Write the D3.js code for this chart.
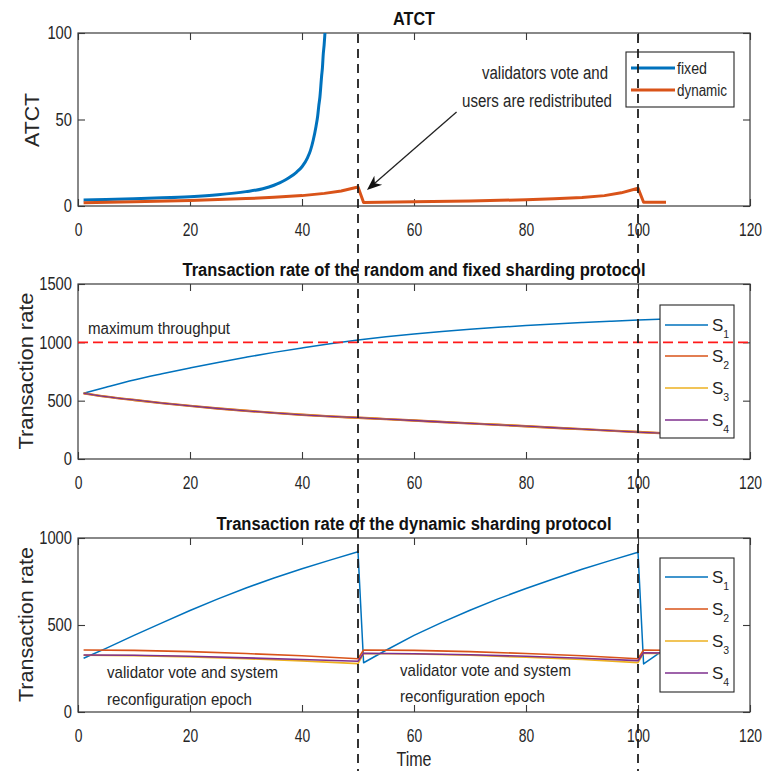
<!DOCTYPE html>
<html>
<head>
<meta charset="utf-8">
<script src="https://cdn.jsdelivr.net/npm/d3@7"></script>
<style>
  body { margin: 0; background: #fff; }
  svg { display: block; }
  text { font-family: "Liberation Sans", Arial, Helvetica, sans-serif; }
</style>
</head>
<body>
<svg id="fig" width="762" height="771"></svg>
<script>
// ---------- tick labels ----------
const timeTicks = [0, 20, 40, 60, 80, 100, 120];
const atctTicks = [0, 50, 100];
const rateTicksFixed = [0, 500, 1000, 1500];
const rateTicksDynamic = [0, 500, 1000];

// ---------- ATCT ----------
const fixedTime = [1, 5, 10, 15, 20, 25, 30, 33, 35, 36, 37, 38, 39, 40, 41, 41.5, 42, 42.5, 42.8, 43, 43.2, 43.5, 43.65, 43.8, 43.95, 44.1];
const fixedATCT = [3.5, 3.8, 4.2, 4.7, 5.4, 6.5, 8.3, 10, 12, 13.4, 15, 17, 19.5, 22.7, 28, 32, 38, 46, 52, 58, 63, 75, 80, 88, 93, 100];
const dynamicTime = [1, 10, 20, 30, 35, 40, 44, 47, 50, 51, 60, 70, 80, 85, 90, 94, 97, 100, 101, 105];
const dynamicATCT = [1.9, 2.4, 3.2, 4.3, 5.0, 6.0, 7.3, 8.7, 11.0, 2.0, 2.4, 2.9, 3.6, 4.2, 4.9, 6.0, 7.6, 10.3, 2.2, 2.2];

// ---------- random / fixed sharding ----------
const fixedShardTime = [1, 5, 10, 15, 20, 25, 30, 35, 40, 45, 50, 55, 60, 65, 70, 75, 80, 85, 90, 95, 100, 105];
const fixedS1 = [563, 615, 677, 730, 780, 828, 872, 914, 952, 988, 1020, 1048, 1072, 1093, 1112, 1129, 1144, 1158, 1170, 1181, 1191, 1200];
const fixedS2 = [563, 535, 506, 479, 455, 433, 413, 395, 379, 365, 354, 342, 330, 317, 305, 293, 281, 268, 256, 243, 231, 220];
const fixedS3 = [563, 535, 506, 479, 455, 433, 413, 395, 379, 365, 354, 342, 330, 317, 305, 293, 281, 268, 256, 243, 231, 220];
const fixedS4 = [563, 535, 506, 479, 455, 433, 413, 395, 379, 365, 354, 342, 330, 317, 305, 293, 281, 268, 256, 243, 231, 220];
const maxThroughput = 1000;

// ---------- dynamic sharding ----------
const dynS1Time = [1, 5, 10, 15, 20, 25, 30, 35, 40, 45, 50, 51, 55, 60, 65, 70, 75, 80, 85, 90, 95, 100, 101, 105];
const dynS1 = [309, 366, 440, 512, 583, 650, 713, 770, 823, 873, 921, 283, 355, 440, 515, 585, 650, 710, 766, 820, 870, 918, 276, 365];
const dynShardTime = [1, 10, 20, 30, 40, 50, 51, 60, 70, 80, 90, 100, 101, 105];
const dynS2 = [356, 354, 347, 336, 323, 306, 356, 354, 347, 336, 323, 306, 356, 355];
const dynS3 = [326, 324, 317, 306, 294, 278, 336, 333, 326, 315, 302, 284, 338, 337];
const dynS4 = [328, 326, 320, 311, 302, 292, 338, 335, 329, 320, 309, 295, 340, 339];

const epochTimes = [50, 100];
const shardLabels = ["1", "2", "3", "4"];
const atctLabels = ["fixed", "dynamic"];
const palette = ["#0072BD", "#D95319", "#EDB120", "#7E2F8E"];

// ---------- helpers ----------
const svg = d3.select("#fig");
const axisColor = "#3a3a3a";
const textColor = "#262626";
const x = d3.scaleLinear([0, 120], [78, 750]);
const plain = d3.format("d");

function fit(sel, w) {
  return sel.attr("textLength", w).attr("lengthAdjust", "spacingAndGlyphs");
}
// narrow the tick labels horizontally while keeping their anchor point fixed
function narrow(sel, f) {
  sel.each(function () {
    const t = d3.select(this);
    const x0 = +t.attr("x") || 0;
    t.attr("x", x0 / f).attr("transform", `scale(${f},1)`);
  });
}

function panel(cfg) {
  const y = d3.scaleLinear(cfg.domain, [cfg.bottom, cfg.top]);
  const g = svg.append("g");

  const styleAxis = a => {
    a.select(".domain").remove();
    a.selectAll(".tick line").attr("stroke", axisColor).attr("stroke-width", 1.1);
    a.selectAll(".tick text").attr("fill", textColor).attr("font-size", 18);
  };

  const bottom = g.append("g").attr("transform", `translate(0,${cfg.bottom})`)
    .call(d3.axisBottom(x).tickValues(timeTicks).tickFormat(plain)
      .tickSizeInner(-7).tickSizeOuter(0).tickPadding(17));
  styleAxis(bottom);
  narrow(bottom.selectAll(".tick text"), 0.77);

  const top = g.append("g").attr("transform", `translate(0,${cfg.top})`)
    .call(d3.axisTop(x).tickValues(timeTicks).tickSizeInner(-7).tickSizeOuter(0).tickFormat(""));
  styleAxis(top);

  const left = g.append("g").attr("transform", "translate(78,0)")
    .call(d3.axisLeft(y).tickValues(cfg.ticks).tickFormat(plain)
      .tickSizeInner(-7).tickSizeOuter(0).tickPadding(6));
  styleAxis(left);
  narrow(left.selectAll(".tick text"), 0.82);

  const right = g.append("g").attr("transform", "translate(750,0)")
    .call(d3.axisRight(y).tickValues(cfg.ticks).tickSizeInner(-7).tickSizeOuter(0).tickFormat(""));
  styleAxis(right);

  g.append("rect")
    .attr("x", x(0)).attr("y", cfg.top)
    .attr("width", x(120) - x(0)).attr("height", cfg.bottom - cfg.top)
    .attr("fill", "none").attr("stroke", axisColor).attr("stroke-width", 1.2);

  fit(g.append("text")
    .attr("x", 414).attr("y", cfg.top - 8)
    .attr("text-anchor", "middle").attr("font-weight", "bold")
    .attr("font-size", 18).attr("fill", "#111")
    .text(cfg.title), cfg.titleWidth);

  fit(g.append("text")
    .attr("transform", `translate(${cfg.ylabelX},${cfg.ylabelY}) rotate(-90)`)
    .attr("text-anchor", "middle").attr("font-size", 20).attr("fill", textColor)
    .text(cfg.ylabel), cfg.ylabelWidth);

  return { g, y };
}

function drawSeries(p, xs, ys, color, width, curve = d3.curveLinear) {
  const line = d3.line().curve(curve)
    .x((d, i) => x(xs[i])).y(d => p.y(d));
  p.g.append("path").datum(ys)
    .attr("d", line).attr("fill", "none")
    .attr("stroke", color).attr("stroke-width", width)
    .attr("stroke-linejoin", "round");
}

function shardLegend(p, box, rows) {
  p.g.append("rect")
    .attr("x", box.x).attr("y", box.y).attr("width", box.w).attr("height", box.h)
    .attr("fill", "#fff").attr("stroke", "#262626").attr("stroke-width", 1.1);
  shardLabels.forEach((lab, i) => {
    const cy = rows[i];
    p.g.append("line").attr("x1", 665).attr("x2", 708).attr("y1", cy).attr("y2", cy)
      .attr("stroke", palette[i]).attr("stroke-width", 1.6);
    const t = p.g.append("text").attr("x", 712).attr("y", cy + 5.5)
      .attr("font-size", 17).attr("fill", textColor).text("S");
    t.append("tspan").attr("dy", 7).attr("font-size", 10.5).text(lab);
  });
}

// ---------- panel 1: ATCT ----------
const p1 = panel({
  top: 33, bottom: 206, domain: [0, 100], ticks: atctTicks,
  title: "ATCT", titleWidth: 42,
  ylabel: "ATCT", ylabelX: 39, ylabelY: 120, ylabelWidth: 54
});
drawSeries(p1, fixedTime, fixedATCT, palette[0], 3, d3.curveMonotoneX);
drawSeries(p1, dynamicTime, dynamicATCT, palette[1], 3);

p1.g.append("rect").attr("x", 626).attr("y", 52).attr("width", 108).attr("height", 55)
  .attr("fill", "#fff").attr("stroke", "#262626").attr("stroke-width", 1.1);
[68, 90].forEach((cy, i) => {
  p1.g.append("line").attr("x1", 631).attr("x2", 675).attr("y1", cy).attr("y2", cy)
    .attr("stroke", palette[i]).attr("stroke-width", 3);
  fit(p1.g.append("text").attr("x", 677).attr("y", cy + 6)
    .attr("font-size", 16).attr("fill", textColor).text(atctLabels[i]), i === 0 ? 30 : 50);
});

// annotation with arrow
fit(p1.g.append("text").attr("x", 482).attr("y", 79).attr("font-size", 18)
  .attr("fill", textColor).text("validators vote and"), 126);
fit(p1.g.append("text").attr("x", 462).attr("y", 107).attr("font-size", 18)
  .attr("fill", textColor).text("users are redistributed"), 150);
{
  const x0 = x(67.6), y0 = p1.y(54.3), x1 = x(51.6), y1 = p1.y(9.2);
  const dx = x1 - x0, dy = y1 - y0, len = Math.hypot(dx, dy);
  const ux = dx / len, uy = dy / len, nx = -uy, ny = ux;
  const L = 15, W = 6;
  p1.g.append("line").attr("x1", x0).attr("y1", y0)
    .attr("x2", x1 - ux * 8).attr("y2", y1 - uy * 8)
    .attr("stroke", "#222").attr("stroke-width", 1.3);
  const pts = [
    [x1, y1],
    [x1 - ux * L + nx * W, y1 - uy * L + ny * W],
    [x1 - ux * L * 0.7, y1 - uy * L * 0.7],
    [x1 - ux * L - nx * W, y1 - uy * L - ny * W]
  ];
  p1.g.append("polygon").attr("points", pts.map(p => p.join(",")).join(" ")).attr("fill", "#111");
}

// ---------- panel 2: random and fixed sharding ----------
const p2 = panel({
  top: 284, bottom: 459, domain: [0, 1500], ticks: rateTicksFixed,
  title: "Transaction rate of the random and fixed sharding protocol", titleWidth: 463,
  ylabel: "Transaction rate", ylabelX: 32.5, ylabelY: 371, ylabelWidth: 157
});
drawSeries(p2, fixedShardTime, fixedS1, palette[0], 1.5, d3.curveMonotoneX);
drawSeries(p2, fixedShardTime, fixedS2, palette[1], 2.4, d3.curveMonotoneX);
drawSeries(p2, fixedShardTime, fixedS3, palette[2], 1.9, d3.curveMonotoneX);
drawSeries(p2, fixedShardTime, fixedS4, palette[3], 1.3, d3.curveMonotoneX);
shardLegend(p2, { x: 660, y: 305, w: 74, h: 133 }, [325, 356, 388, 420]);
p2.g.append("line").attr("x1", x(0)).attr("x2", x(120))
  .attr("y1", p2.y(maxThroughput)).attr("y2", p2.y(maxThroughput))
  .attr("stroke", "#ff1a1a").attr("stroke-width", 1.6).attr("stroke-dasharray", "10,5");
fit(p2.g.append("text").attr("x", 88).attr("y", 334).attr("font-size", 16)
  .attr("fill", textColor).text("maximum throughput"), 142);

// ---------- panel 3: dynamic sharding ----------
const p3 = panel({
  top: 538, bottom: 712, domain: [0, 1000], ticks: rateTicksDynamic,
  title: "Transaction rate of the dynamic sharding protocol", titleWidth: 395,
  ylabel: "Transaction rate", ylabelX: 32.5, ylabelY: 624.5, ylabelWidth: 155
});
drawSeries(p3, dynS1Time, dynS1, palette[0], 1.5);
drawSeries(p3, dynShardTime, dynS2, palette[1], 1.6);
drawSeries(p3, dynShardTime, dynS3, palette[2], 1.6);
drawSeries(p3, dynShardTime, dynS4, palette[3], 1.6);
shardLegend(p3, { x: 660, y: 558, w: 74, h: 134 }, [577, 609, 641, 673]);

[[107, 678, 705], [400, 676, 702]].forEach(([tx, b1, b2]) => {
  fit(p3.g.append("text").attr("x", tx).attr("y", b1).attr("font-size", 17)
    .attr("fill", textColor).text("validator vote and system"), 171);
  fit(p3.g.append("text").attr("x", tx).attr("y", b2).attr("font-size", 17)
    .attr("fill", textColor).text("reconfiguration epoch"), 145);
});

fit(svg.append("text").attr("x", 414).attr("y", 766).attr("text-anchor", "middle")
  .attr("font-size", 20).attr("fill", textColor).text("Time"), 35);

// ---------- epoch markers across all panels ----------
svg.append("g").selectAll("line").data(epochTimes).join("line")
  .attr("x1", d => x(d)).attr("x2", d => x(d))
  .attr("y1", 34).attr("y2", 771)
  .attr("stroke", "#1e1e1e").attr("stroke-width", 1.8)
  .attr("stroke-dasharray", "9,6");
</script>
</body>
</html>
